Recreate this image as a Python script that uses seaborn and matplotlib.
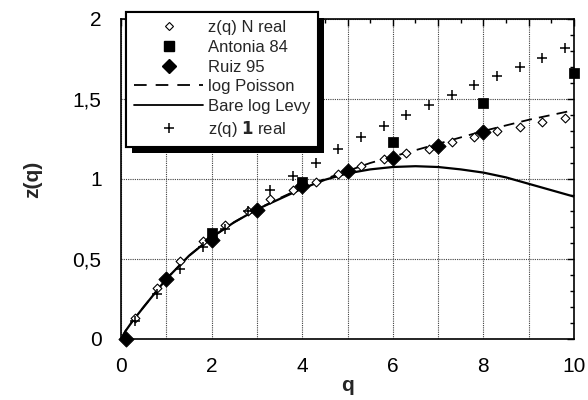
import numpy as np
import pandas as pd
import matplotlib
matplotlib.use('Agg')
import matplotlib.pyplot as plt
import seaborn as sns
from matplotlib.lines import Line2D
from matplotlib.ticker import MultipleLocator, FuncFormatter
from matplotlib import patheffects

# z(q) N real (open diamonds)
q_nreal = [0.3, 0.8, 1.3, 1.8, 2.3, 2.8, 3.3, 3.8, 4.3, 4.8, 5.3, 5.8, 6.3, 6.8, 7.3, 7.8, 8.3, 8.8, 9.3, 9.8]
z_nreal = [0.13, 0.32, 0.49, 0.61, 0.71, 0.80, 0.875, 0.93, 0.98, 1.03, 1.08, 1.125, 1.16, 1.19, 1.23, 1.26, 1.30, 1.325, 1.355, 1.38]

# Antonia 84 (filled squares)
q_antonia = [2, 4, 6, 8, 10]
z_antonia = [0.66, 0.98, 1.23, 1.475, 1.66]

# Ruiz 95 (filled diamonds)
q_ruiz = [0.1, 1, 2, 3, 4, 5, 6, 7, 8]
z_ruiz = [0.0, 0.375, 0.62, 0.806, 0.958, 1.05, 1.13, 1.205, 1.295]

# log Poisson (dashed)
q_poisson = [0, 0.1, 0.25, 0.5, 1, 1.5, 2, 2.5, 3, 3.5, 4, 4.5, 5, 5.5, 6, 6.5, 7, 7.5, 8, 8.5, 9, 9.5, 10]
z_poisson = [0, 0.05, 0.11, 0.2, 0.375, 0.52, 0.635, 0.73, 0.81, 0.88, 0.945, 1.0, 1.05, 1.10, 1.14, 1.18, 1.22, 1.26, 1.30, 1.335, 1.37, 1.40, 1.43]

# Bare log Levy (solid)
q_levy = [0, 0.1, 0.25, 0.5, 1, 1.5, 2, 2.5, 3, 3.5, 4, 4.5, 5, 5.5, 6, 6.5, 7, 7.5, 8, 8.5, 9, 9.5, 10]
z_levy = [0, 0.05, 0.11, 0.2, 0.375, 0.52, 0.635, 0.73, 0.81, 0.875, 0.94, 0.995, 1.035, 1.06, 1.075, 1.08, 1.075, 1.06, 1.04, 1.01, 0.97, 0.93, 0.89]

# z(q) 1 real (plus)
q_1real = [0.3, 0.8, 1.3, 1.8, 2.3, 2.8, 3.3, 3.8, 4.3, 4.8, 5.3, 5.8, 6.3, 6.8, 7.3, 7.8, 8.3, 8.8, 9.3, 9.8]
z_1real = [0.115, 0.28, 0.44, 0.575, 0.69, 0.80, 0.93, 1.02, 1.10, 1.19, 1.26, 1.33, 1.40, 1.46, 1.525, 1.59, 1.645, 1.70, 1.756, 1.817]

sns.set_style('white')
plt.rcParams['font.family'] = ['Liberation Sans', 'DejaVu Sans']

fig = plt.figure(figsize=(5.88, 4.00), dpi=100)
ax = fig.add_axes([121 / 588, 1 - 339 / 400, 453 / 588, 320 / 400])

sns.lineplot(x=q_poisson, y=z_poisson, ax=ax, color='black', lw=1.3, linestyle=(0, (6, 4)), estimator=None, sort=False)
sns.lineplot(x=q_levy, y=z_levy, ax=ax, color='black', lw=1.6, estimator=None, sort=False)
sns.scatterplot(x=q_nreal, y=z_nreal, ax=ax, marker='D', s=20, facecolor='white', edgecolor='black', linewidth=0.8, zorder=4)
sns.scatterplot(x=q_antonia, y=z_antonia, ax=ax, marker='s', s=45, color='black', edgecolor='black', zorder=5, clip_on=False)
sns.scatterplot(x=q_ruiz, y=z_ruiz, ax=ax, marker='D', s=60, color='black', edgecolor='black', zorder=5, clip_on=False)
sns.scatterplot(x=q_1real, y=z_1real, ax=ax, marker='+', s=50, color='black', linewidth=1.1, zorder=5)

ax.set_xlim(0, 10)
ax.set_ylim(0, 2)
ax.xaxis.set_major_locator(MultipleLocator(1))
ax.xaxis.set_minor_locator(MultipleLocator(0.5))
ax.yaxis.set_major_locator(MultipleLocator(0.5))
ax.yaxis.set_minor_locator(MultipleLocator(0.1))
ax.xaxis.set_major_formatter(FuncFormatter(lambda v, p: '%d' % round(v) if round(v) % 2 == 0 else ''))
ax.yaxis.set_major_formatter(FuncFormatter(lambda v, p: ('%g' % v).replace('.', ',')))
ax.tick_params(which='both', direction='in', top=True, right=True, labelsize=15, colors='black', width=1)
ax.tick_params(which='major', length=5)
ax.tick_params(axis='x', which='major', pad=13)
ax.tick_params(axis='y', which='major', pad=14)
ax.tick_params(which='minor', length=3)
ax.grid(True, which='major', color='0.25', linestyle=(0, (1, 1)), lw=0.8)
for s in ax.spines.values():
    s.set_color('black')
    s.set_linewidth(1.2)

ax.set_xlabel('q', fontsize=15, fontweight='bold', labelpad=0)
ax.set_ylabel('z(q)', fontsize=15, fontweight='bold', labelpad=22)

handles = [
    Line2D([], [], marker='D', ls='none', ms=4.0, mfc='white', mec='black', mew=0.8),
    Line2D([], [], marker='s', ls='none', ms=6.5, color='black'),
    Line2D([], [], marker='D', ls='none', ms=7.5, color='black'),
    Line2D([], [], color='black', lw=1.3, ls=(0, (7, 5))),
    Line2D([], [], color='black', lw=1.3),
    Line2D([], [], marker='+', ls='none', ms=7, mew=1.1, color='black'),
]
labels = ['z(q) N real', 'Antonia 84', 'Ruiz 95', 'log Poisson', 'Bare log Levy', 'z(q) $\\mathbf{1}$ real']
leg = ax.legend(handles, labels, loc='upper left', bbox_to_anchor=(126 / 588, 1 - 12 / 400),
                bbox_transform=fig.transFigure, borderaxespad=0, fontsize=12, frameon=True,
                fancybox=False, framealpha=1, edgecolor='black', handlelength=4.1, handletextpad=0.3,
                labelspacing=0.28, borderpad=0.5)
leg.get_frame().set_linewidth(1.5)
leg.get_frame().set_path_effects([patheffects.withSimplePatchShadow(offset=(4, -4), shadow_rgbFace='black', alpha=1),
                                  patheffects.Normal()])
leg.set_zorder(10)

fig.savefig('out.png', dpi=100)
